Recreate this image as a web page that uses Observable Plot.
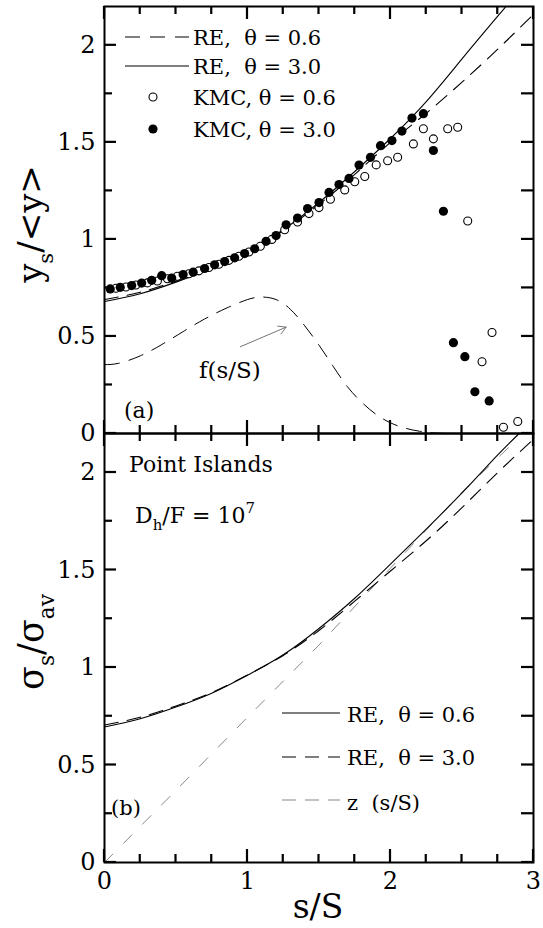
<!DOCTYPE html>
<html><head><meta charset="utf-8">
<script src="https://cdn.jsdelivr.net/npm/d3@7"></script>
<script src="https://cdn.jsdelivr.net/npm/@observablehq/plot@0.6"></script>
<style>
body{margin:0;background:#fff;}
#chart{position:relative;width:543px;height:928px;overflow:hidden;}
#chart > svg{position:absolute;left:0;}
</style></head><body><div id="chart"></div>
<script>
// ---------- data ----------
// panel (a): KMC points
const kmc30S = [0.04,0.11,0.19,0.26,0.33,0.40,0.47,0.55,0.62,0.70,0.77,0.84,0.91,0.98,1.05,1.13,1.20,1.27,1.35,1.42,1.50,1.57,1.64,1.71,1.78,1.86,1.93,2.01,2.08,2.15,2.23,2.30,2.37,2.44,2.52,2.59,2.69];
const kmc30Y = [0.745,0.753,0.762,0.775,0.789,0.813,0.801,0.819,0.831,0.850,0.869,0.886,0.905,0.927,0.952,0.990,1.020,1.075,1.110,1.159,1.190,1.242,1.283,1.314,1.383,1.423,1.483,1.509,1.558,1.625,1.648,1.458,1.145,0.468,0.396,0.215,0.168];
const kmc06S = [0.08,0.15,0.22,0.30,0.37,0.44,0.51,0.59,0.66,0.73,0.80,0.87,0.94,1.01,1.09,1.17,1.26,1.35,1.43,1.50,1.58,1.68,1.75,1.82,1.90,1.98,2.05,2.16,2.23,2.30,2.40,2.47,2.54,2.64,2.71,2.79,2.89];
const kmc06Y = [0.748,0.755,0.765,0.776,0.786,0.797,0.810,0.823,0.838,0.855,0.872,0.892,0.913,0.935,0.965,1.000,1.050,1.090,1.133,1.164,1.207,1.255,1.297,1.324,1.384,1.405,1.423,1.492,1.570,1.518,1.570,1.578,1.095,0.370,0.520,0.032,0.062];
// panel (a): rate-equation curves
const reA30S = [0,0.25,0.5,0.75,1.0,1.25,1.5,1.75,2.0,2.25,2.5,2.75,2.9];
const reA30Y = [0.68,0.72,0.78,0.85,0.94,1.05,1.19,1.35,1.52,1.71,1.93,2.15,2.28];
const reA06S = [0,0.25,0.5,0.75,1.0,1.25,1.5,1.75,2.0,2.25,2.5,2.75,3.0];
const reA06Y = [0.69,0.728,0.785,0.852,0.94,1.045,1.18,1.335,1.5,1.65,1.81,1.98,2.16];
// panel (a): f(s/S)
const fS = [0,0.1,0.25,0.4,0.55,0.7,0.85,1.0,1.1,1.2,1.3,1.4,1.5,1.6,1.7,1.8,1.9,2.0,2.1,2.2,2.3,2.4];
const fY = [0.355,0.362,0.400,0.458,0.525,0.590,0.645,0.690,0.703,0.690,0.640,0.555,0.455,0.345,0.240,0.160,0.098,0.055,0.028,0.012,0.003,0.0];
const fArrowFrom = [0.95, 0.447];
const fArrowTo = [1.27, 0.548];
// panel (b)
const reB06S = [0,0.25,0.5,0.75,1.0,1.25,1.5,1.75,2.0,2.25,2.5,2.75,2.9];
const reB06Y = [0.695,0.737,0.797,0.868,0.96,1.065,1.2,1.355,1.53,1.71,1.895,2.09,2.2];
const reB30S = [0,0.25,0.5,0.75,1.0,1.25,1.5,1.75,2.0,2.25,2.5,2.75,3.0];
const reB30Y = [0.705,0.745,0.803,0.872,0.962,1.062,1.19,1.34,1.495,1.65,1.82,2.0,2.17];
const zS = [0,0.5,1.0,1.5,2.0,2.5,2.9];
const zY = [0,0.37,0.745,1.115,1.51,1.90,2.18];
// ticks
const xMajor = [0,1,2,3];
const xMinor = [0,0.25,0.5,0.75,1,1.25,1.5,1.75,2,2.25,2.5,2.75,3];
const yMajor = [0,0.5,1,1.5,2];
const yMinor = [0,0.25,0.5,0.75,1,1.25,1.5,1.75,2];

const rows = (xs, ys) => xs.map((x, i) => ({x, y: ys[i]}));

const FONT = "DejaVu Serif";
const W = 543, ML = 104, MR = 10, PW = W - ML - MR;
const XD = [0, 3], YD = [0, 2.2];
const common = {
  width: W, marginLeft: ML, marginRight: MR,
  x: {domain: XD, axis: null}, y: {domain: YD, axis: null},
  style: {fontFamily: FONT, fontSize: "24px", background: "transparent", overflow: "visible", color: "#000"}
};
const yLabels = Plot.axisY({ticks: yMajor, anchor: "left", tickSize: 0, tickPadding: 9, fontSize: 24, label: null, tickFormat: d => String(d)});

// inward frame ticks drawn as small filled rectangles (pixel sizes converted to data units)
function tickRects(PH) {
  const ux = (XD[1] - XD[0]) / PW, uy = (YD[1] - YD[0]) / PH;
  const hw = 1.1; // half thickness in px
  const r = [];
  for (const v of yMinor) {
    const L = yMajor.includes(v) ? 12 : 8;
    r.push({x1: XD[0], x2: XD[0] + L * ux, y1: v - hw * uy, y2: v + hw * uy});
    r.push({x1: XD[1] - 12 * ux, x2: XD[1], y1: v - hw * uy, y2: v + hw * uy});
  }
  for (const v of xMinor) {
    const L = xMajor.includes(v) ? 13 : 8;
    r.push({x1: v - hw * ux, x2: v + hw * ux, y1: YD[0], y2: YD[0] + L * uy});
    r.push({x1: v - hw * ux, x2: v + hw * ux, y1: YD[1] - L * uy, y2: YD[1]});
  }
  return Plot.rect(r, {x1: "x1", x2: "x2", y1: "y1", y2: "y2", fill: "#000"});
}

const topPlot = Plot.plot({
  ...common, height: 434, marginTop: 6, marginBottom: 1,
  marks: [
    Plot.line(rows(fS, fY), {x: "x", y: "y", curve: "natural", stroke: "#000", strokeWidth: 1, strokeDasharray: "15,10"}),
    Plot.arrow([{x1: fArrowFrom[0], y1: fArrowFrom[1], x2: fArrowTo[0], y2: fArrowTo[1]}], {x1: "x1", y1: "y1", x2: "x2", y2: "y2", stroke: "#666", strokeWidth: 0.9, headLength: 14, bend: 0}),
    Plot.line(rows(reA06S, reA06Y), {x: "x", y: "y", curve: "natural", stroke: "#000", strokeWidth: 1.1, strokeDasharray: "14,9", clip: true}),
    Plot.line(rows(reA30S, reA30Y), {x: "x", y: "y", curve: "natural", stroke: "#000", strokeWidth: 1.1, clip: true}),
    Plot.dot(rows(kmc06S, kmc06Y), {x: "x", y: "y", r: 4, stroke: "#000", fill: "#fff", strokeWidth: 1.1}),
    Plot.dot(rows(kmc30S, kmc30Y), {x: "x", y: "y", r: 4.6, fill: "#000", stroke: "none"}),
    tickRects(427),
    Plot.frame({stroke: "#000", strokeWidth: 2}),
    yLabels
  ]
});

const botPlot = Plot.plot({
  ...common, height: 496, marginTop: 1, marginBottom: 66,
  marks: [
    Plot.line(rows(zS, zY), {x: "x", y: "y", stroke: "#888", strokeWidth: 1, strokeDasharray: "12,15", clip: true}),
    Plot.line(rows(reB30S, reB30Y), {x: "x", y: "y", curve: "natural", stroke: "#000", strokeWidth: 1.1, strokeDasharray: "14,9", clip: true}),
    Plot.line(rows(reB06S, reB06Y), {x: "x", y: "y", curve: "natural", stroke: "#000", strokeWidth: 1.1, clip: true}),
    tickRects(429),
    Plot.frame({stroke: "#000", strokeWidth: 2}),
    yLabels,
    Plot.axisX({ticks: xMajor, anchor: "bottom", tickSize: 0, tickPadding: 9, fontSize: 24, label: null, tickFormat: d => String(d)})
  ]
});

const chart = document.getElementById("chart");
topPlot.style.top = "0px";
botPlot.style.top = "432px";
chart.append(topPlot, botPlot);

// ---------- text helpers ----------
function richText(svg, x, y, parts, size, anchor = "start", rotate = 0, subScale = 0.68) {
  const t = d3.select(svg).append("text")
    .attr("transform", `translate(${x},${y}) rotate(${rotate})`)
    .attr("text-anchor", anchor)
    .attr("font-family", FONT)
    .attr("font-size", size)
    .attr("fill", "#000")
    .style("white-space", "pre");
  let shift = 0;
  for (const [s, kind] of parts) {
    const target = kind === "sub" ? size * 0.32 : kind === "sup" ? -size * 0.45 : 0;
    t.append("tspan").attr("dy", target - shift).attr("font-size", kind ? size * subScale : size).text(s);
    shift = target;
  }
  return t;
}
const tsvg = topPlot, bsvg = botPlot;
const txA = topPlot.scale("x"), tyA = topPlot.scale("y");

// axis titles
richText(tsvg, 42, 224, [["y"], ["s", "sub"], ["/<y>"]], 34, "middle", -90, 0.62);
richText(bsvg, 43, 642 - 432, [["σ"], ["s", "sub"], ["/σ"], ["av", "sub"]], 35, "middle", -90, 0.62);
richText(bsvg, 318, 918 - 432, [["s/S"]], 33, "middle");

// panel (a) annotations
richText(tsvg, txA.apply(0.88), tyA.apply(0.285), [["f(s/S)"]], 23, "middle");
richText(tsvg, txA.apply(0.14), tyA.apply(0.077), [["(a)"]], 22, "start");

// panel (a) legend
const legA = [
  {label: "RE,  θ = 0.6", kind: "dash", cy: 37, base: 45},
  {label: "RE,  θ = 3.0", kind: "solid", cy: 66, base: 74},
  {label: "KMC, θ = 0.6", kind: "open", cy: 97, base: 105},
  {label: "KMC, θ = 3.0", kind: "filled", cy: 129, base: 137}
];
const gA = d3.select(tsvg).append("g");
for (const e of legA) {
  if (e.kind === "dash" || e.kind === "solid") {
    gA.append("line").attr("x1", 125).attr("x2", 189).attr("y1", e.cy).attr("y2", e.cy)
      .attr("stroke", "#000").attr("stroke-width", 1.1).attr("stroke-dasharray", e.kind === "dash" ? "15,10" : null);
  } else {
    gA.append("circle").attr("cx", 153).attr("cy", e.cy).attr("r", e.kind === "open" ? 4 : 4.6)
      .attr("fill", e.kind === "open" ? "#fff" : "#000").attr("stroke", e.kind === "open" ? "#000" : "none").attr("stroke-width", 1.1);
  }
  richText(tsvg, 193, e.base, [[e.label]], 21, "start");
}

// panel (b) annotations
richText(bsvg, 129, 472 - 432, [["Point Islands"]], 22, "start");
richText(bsvg, 135, 523 - 432, [["D"], ["h", "sub"], ["/F = 10"], ["7", "sup"]], 22, "start");
richText(bsvg, 111, 815 - 432, [["(b)"]], 21, "start");

const legB = [
  {label: "RE,  θ = 0.6", dash: null, color: "#000", cy: 713, base: 722},
  {label: "RE,  θ = 3.0", dash: "14,9", color: "#000", cy: 757, base: 765},
  {label: "z  (s/S)", dash: "14,9", color: "#888", cy: 800, base: 810}
];
const gB = d3.select(bsvg).append("g");
for (const e of legB) {
  gB.append("line").attr("x1", 282).attr("x2", 340).attr("y1", e.cy - 432).attr("y2", e.cy - 432)
    .attr("stroke", e.color).attr("stroke-width", 1.1).attr("stroke-dasharray", e.dash);
  richText(bsvg, 347, e.base - 432, [[e.label]], 21, "start");
}
</script>
</body></html>
